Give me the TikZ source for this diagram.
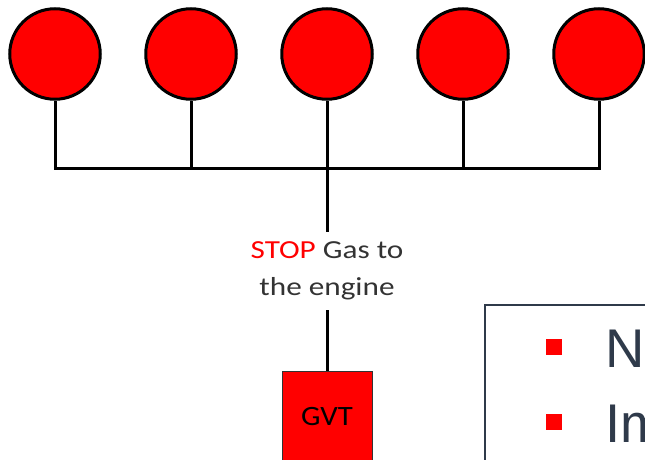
\documentclass[tikz,border=0pt]{standalone}
\usepackage{fontspec}
\setmainfont{Carlito}
\newfontfamily\calib[FakeStretch=1.2]{Carlito}
\newfontfamily\calibg[FakeStretch=1.1]{Carlito}
\newfontfamily\arialf{Liberation Sans}
\definecolor{slate}{HTML}{2F3A4A}
\definecolor{lblgray}{HTML}{333333}
\tikzset{
  valve/.style={circle, draw=black, fill=red, line width=3pt, minimum size=90.5pt, inner sep=0pt},
  pipe/.style={draw=black, line width=3pt},
  gvtbox/.style={rectangle, draw=black!80, fill=red, line width=1pt, minimum width=90pt, minimum height=91pt, inner sep=0pt, font=\calibg\fontsize{28}{30}\selectfont},
  lbl/.style={align=center, text=lblgray, minimum height=78pt, inner sep=0pt, font=\calib\fontsize{26}{37}\selectfont},
  bullet/.style={rectangle, fill=red, minimum size=16pt, inner sep=0pt},
  bigtxt/.style={anchor=base west, inner sep=0pt, text=slate, font=\arialf\fontsize{54.5}{60}\selectfont},
}
\begin{document}
\begin{tikzpicture}[x=1pt,y=-1pt]
\useasboundingbox (0,0) rectangle (645,460);
\clip (0,0) rectangle (645,460);
% valves
\node[valve] (c1) at (55,54) {};
\node[valve] (c2) at (191,54) {};
\node[valve] (c3) at (327,54) {};
\node[valve] (c4) at (463,54) {};
\node[valve] (c5) at (599,54) {};
% bus
\coordinate (busL) at (55,168);
\coordinate (busR) at (599,168);
\draw[pipe, line join=miter] (c1.south) -- (busL) -- (busR) -- (c5.south);
\draw[pipe] (c2.south) -- (c2.south |- busL);
\draw[pipe] (c4.south) -- (c4.south |- busL);
% label
\node[lbl] (label) at (327,271) {\textcolor{red}{STOP} Gas to\\the engine};
\draw[pipe] (c3.south) -- (label.north);
% GVT
\node[gvtbox] (gvt) at (327,416.5) {GVT};
\draw[pipe] (label.south) -- (gvt.north);
% text box
\coordinate (boxTL) at (485,305);
\coordinate (boxBR) at (700,520);
\draw[slate, line width=1.5pt] (boxTL) rectangle (boxBR);
\node[bullet] (b1) at (554,346.5) {};
\node[bullet] (b2) at (554,421.5) {};
\node[bigtxt] (t1) at (605,367) {No};
\node[bigtxt] (t2) at (605,442) {Im};
\end{tikzpicture}
\end{document}
